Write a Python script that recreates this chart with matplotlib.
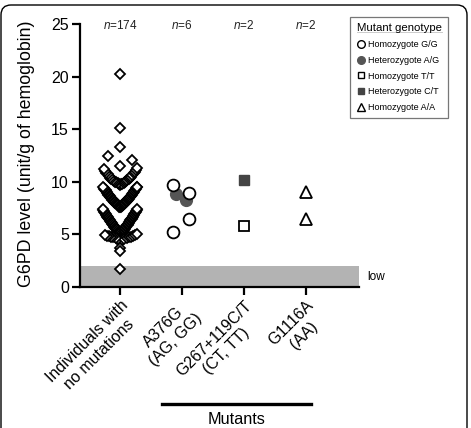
import matplotlib
matplotlib.use('Agg')
import matplotlib.pyplot as plt
from matplotlib.lines import Line2D
from matplotlib.patches import FancyBboxPatch
import numpy as np

plt.rcParams['font.family'] = ['Liberation Sans', 'DejaVu Sans']
plt.rcParams['mathtext.fontset'] = 'custom'
plt.rcParams['mathtext.it'] = 'Liberation Sans:italic'
plt.rcParams['mathtext.rm'] = 'Liberation Sans'

# ---------------- data ----------------
categories = ["Individuals with\nno mutations", "A376G\n(AG, GG)",
              "G267+119C/T\n(CT, TT)", "G1116A\n(AA)"]
n_labels = ["174", "6", "2", "2"]

wild_type = [
    20.2, 15.1, 13.3, 12.5, 12.1, 11.5,
    9.7, 9.75, 9.8, 9.8, 9.85, 9.9, 9.95, 10.0, 10.0, 10.05,
    10.1, 10.15, 10.2, 10.25, 10.3, 10.35, 10.4, 10.5, 10.55, 10.6,
    10.7, 10.8, 10.85, 10.9, 11.0, 11.1, 11.2, 11.3,
    7.6, 7.62, 7.65, 7.68, 7.7, 7.72, 7.75, 7.78, 7.8, 7.82,
    7.85, 7.88, 7.9, 7.92, 7.95, 7.98, 8.0, 8.03, 8.06, 8.1,
    8.12, 8.15, 8.18, 8.2, 8.24, 8.27, 8.3, 8.33, 8.36, 8.4,
    8.43, 8.46, 8.5, 8.53, 8.56, 8.6, 8.63, 8.66, 8.7, 8.74,
    8.78, 8.82, 8.86, 8.9, 8.94, 8.98, 9.02, 9.06, 9.1, 9.14,
    9.18, 9.22, 9.26, 9.3, 9.34, 9.38, 9.42, 9.46, 9.5, 9.55,
    5.1, 5.12, 5.15, 5.18, 5.2, 5.22, 5.25, 5.28, 5.3, 5.33,
    5.36, 5.4, 5.43, 5.46, 5.5, 5.54, 5.58, 5.62, 5.66, 5.7,
    5.74, 5.78, 5.82, 5.86, 5.9, 5.94, 5.98, 6.02, 6.06, 6.1,
    6.14, 6.18, 6.22, 6.26, 6.3, 6.34, 6.38, 6.42, 6.46, 6.5,
    6.54, 6.58, 6.62, 6.66, 6.7, 6.74, 6.78, 6.82, 6.86, 6.9,
    6.95, 7.0, 7.05, 7.1, 7.15, 7.2, 7.25, 7.3, 7.35, 7.4, 7.45,
    4.3, 4.45, 4.55, 4.6, 4.65, 4.7, 4.72, 4.75, 4.78, 4.8,
    4.82, 4.85, 4.88, 4.9, 4.95, 5.0,
    3.7, 3.4, 1.7,
]

a376g_homo_gg = [9.7, 8.9, 6.45, 5.25]
a376g_het_ag = [8.8, 8.3]
g267_homo_tt = [5.8]
g267_het_ct = [10.2]
g1116a_homo_aa = [9.0, 6.5]

low_threshold = 2.0

# ---------------- layout helpers ----------------
bin_edges = [0, 3.0, 3.55, 4.1, 5.05, 7.5, 9.65, 11.35, 13.0, 14.0, 16.0, 21.0]


def swarm_offsets(values, edges, halfwidth=0.28, cap=0.2):
    vals = np.asarray(values, dtype=float)
    offs = np.zeros_like(vals)
    idx = np.digitize(vals, edges)
    for b in np.unique(idx):
        members = np.where(idx == b)[0]
        order = members[np.argsort(vals[members], kind='stable')]
        n = len(order)
        step = min(halfwidth / max(1, int(np.ceil((n - 1) / 2))), cap)
        for k, i in enumerate(order):
            sign = 1 if k % 2 == 1 else -1
            offs[i] = sign * ((k + 1) // 2) * step
    return offs


a376g_homo_dx = [-0.145, 0.11, 0.11, -0.145]
a376g_het_dx = [-0.10, 0.065]

W, H = 471, 428
fig = plt.figure(figsize=(W / 100, H / 100), dpi=100)
ax = fig.add_axes([80 / W, 1 - 287 / H, 279 / W, 263 / H])

ax.set_xlim(-0.645, 3.855)
ax.set_ylim(0, 25)

ax.axhspan(0, low_threshold, color='#b3b3b3', lw=0, zorder=0)
ax.text(3.99, 0.95, 'low', fontsize=8.5, ha='left', va='center', clip_on=False)

wx = 0 + swarm_offsets(wild_type, bin_edges)
ax.plot(wx, wild_type, ls='none', marker='D', ms=4.6, mfc='white', mec='black',
        mew=1.3, zorder=3, clip_on=False)

ax.plot(1 + np.array(a376g_het_dx), a376g_het_ag, ls='none', marker='o', ms=8.5,
        mfc='#555555', mec='#555555', mew=1.0, zorder=3)
ax.plot(1 + np.array(a376g_homo_dx), a376g_homo_gg, ls='none', marker='o', ms=8.5,
        mfc='white', mec='black', mew=1.3, zorder=4)
ax.plot([2] * len(g267_het_ct), g267_het_ct, ls='none', marker='s', ms=7,
        mfc='#444444', mec='#444444', mew=1.0, zorder=3)
ax.plot([2] * len(g267_homo_tt), g267_homo_tt, ls='none', marker='s', ms=7,
        mfc='white', mec='black', mew=1.3, zorder=3)
ax.plot([3] * len(g1116a_homo_aa), g1116a_homo_aa, ls='none', marker='^', ms=8,
        mfc='white', mec='black', mew=1.3, zorder=3)

for i, n in enumerate(n_labels):
    ax.text(i, 24.9, r'$n$=' + n, fontsize=8.5, ha='center', va='center', color='#222222')

for s in ['top', 'right']:
    ax.spines[s].set_visible(False)
for s in ['left', 'bottom']:
    ax.spines[s].set_linewidth(1.6)

ax.set_yticks([0, 5, 10, 15, 20, 25])
ax.tick_params(axis='both', direction='out', length=6, width=1.6, labelsize=11.5, pad=2)
ax.set_xticks(range(len(categories)))
ax.set_xticklabels(categories, rotation=45, ha='right', rotation_mode='anchor',
                   fontsize=11.5, multialignment='center')

fig.text(27 / W, 1 - 154 / H, 'G6PD level (unit/g of hemoglobin)', rotation=90,
         fontsize=12.8, ha='center', va='center')

# Mutants bracket
fig.add_artist(Line2D([162 / W, 311 / W], [1 - 404 / H, 1 - 404 / H],
                      color='black', lw=2.4, transform=fig.transFigure))
fig.text(237 / W, 1 - 420 / H, 'Mutants', fontsize=11.7, ha='center', va='center')

# Legend
handles = [
    Line2D([], [], ls='none', marker='o', ms=5.5, mfc='white', mec='black', mew=1.0),
    Line2D([], [], ls='none', marker='o', ms=5.5, mfc='#555555', mec='#555555', mew=1.0),
    Line2D([], [], ls='none', marker='s', ms=5.0, mfc='white', mec='black', mew=1.0),
    Line2D([], [], ls='none', marker='s', ms=5.0, mfc='#444444', mec='#444444', mew=1.0),
    Line2D([], [], ls='none', marker='^', ms=5.5, mfc='white', mec='black', mew=1.0),
]
labels = ['Homozygote G/G', 'Heterozygote A/G', 'Homozygote T/T',
          'Heterozygote C/T', 'Homozygote A/A']
leg = fig.legend(handles, labels, loc='upper right',
                 bbox_to_anchor=(448 / W, 1 - 17 / H), fontsize=6.5,
                 title='Mutant genotype', title_fontsize=8.2, frameon=True,
                 fancybox=False, edgecolor='#555555', handlelength=0.9,
                 handletextpad=0.4, labelspacing=0.75, borderpad=0.7,
                 borderaxespad=0)
leg.get_frame().set_linewidth(0.9)
leg._legend_box.align = 'left'

fig.canvas.draw()
tb = leg.get_title().get_window_extent()
inv = fig.transFigure.inverted()
(x0, y0), (x1, y1) = inv.transform([[tb.x0, tb.y0], [tb.x1, tb.y1]])
fig.add_artist(Line2D([x0, x1], [y0 + 0.002, y0 + 0.002], color='black', lw=0.7,
                      transform=fig.transFigure))

# figure border (rounded top)
border = FancyBboxPatch((1 / 100, -0.2), 4.66, (H - 5) / 100 + 0.2,
                        boxstyle='round,pad=0,rounding_size=0.1',
                        transform=fig.dpi_scale_trans, fill=False,
                        edgecolor='black', lw=1.0)
fig.add_artist(border)

fig.savefig('out.png', dpi=100)
